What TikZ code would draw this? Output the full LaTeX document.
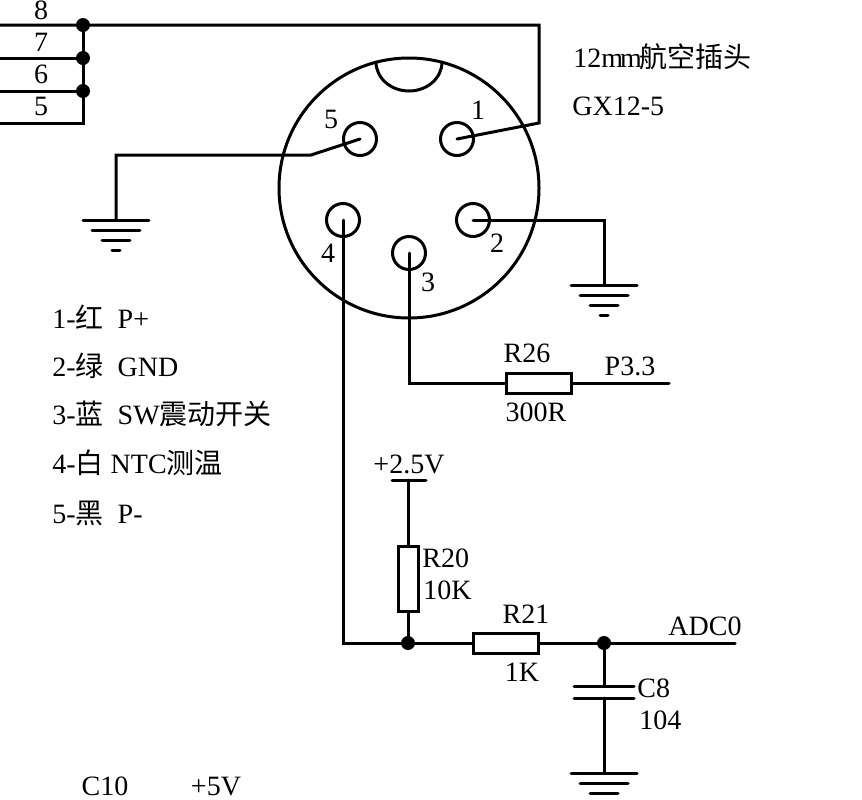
\documentclass[tikz,border=0pt]{standalone}
\usepackage{fontspec}
\setmainfont{Liberation Serif}
\newfontfamily\cjk{Noto Sans CJK SC}
\tikzset{
  wire/.style={black,line width=1.5pt,line cap=round,line join=miter},
  pin/.style={circle,draw,line width=1.5pt,minimum size=16.5pt,inner sep=0pt},
  res/.style={rectangle,draw,line width=1.5pt,inner sep=0pt},
  dot/.style={circle,fill=black,minimum size=7pt,inner sep=0pt},
  txt/.style={inner sep=0pt,font=\fontsize{14}{16}\selectfont},
  gnd/.pic={
    \draw[wire] (-33,0) -- (33,0);
    \draw[wire] (-24,10) -- (24,10);
    \draw[wire] (-14,20) -- (14,20);
    \draw[wire] (-4,30) -- (4,30);
  }
}
\begin{document}
\begin{tikzpicture}[x=0.5pt,y=-0.5pt]
  \clip (0,0) rectangle (862,799);
  % Connector body
  \draw[wire] (409,188) circle (130);
  \draw[wire] (376,62) arc (180:0:33 and 29);
  \node[pin]    (P1)        at (457,139) {};
  \node[pin]    (P2)        at (473,220) {};
  \node[pin]    (P3)        at (409,253) {};
  \node[pin]    (P4)        at (343,220) {};
  \node[pin]    (P5)        at (360,139) {};
  \node[txt]    (L1)        at (478,110) {1};
  \node[txt]    (L2)        at (497,243) {2};
  \node[txt]    (L3)        at (428,282) {3};
  \node[txt]    (L4)        at (328,253) {4};
  \node[txt]    (L5)        at (331,119) {5};
  % Wire bundle on the left
  \coordinate   (W8)        at (0,25);
  \coordinate   (W7)        at (0,58);
  \coordinate   (W6)        at (0,91);
  \coordinate   (W5)        at (0,123);
  \node[dot]    (J8)        at (83,25) {};
  \node[dot]    (J7)        at (83,58) {};
  \node[dot]    (J6)        at (83,91) {};
  \coordinate   (J5)        at (83,123);
  \coordinate   (T1)        at (539,25);
  \coordinate   (T2)        at (539,123);
  \node[txt]    (N8)        at (41,10.5) {8};
  \node[txt]    (N7)        at (41,42) {7};
  \node[txt]    (N6)        at (41,74) {6};
  \node[txt]    (N5)        at (41,106) {5};
  \draw[wire] (W8) -- (J8.center) -- (T1) -- (T2) -- (P1.center);
  \draw[wire] (W7) -- (J7.center);
  \draw[wire] (W6) -- (J6.center);
  \draw[wire] (W5) -- (J5) -- (J8.center);
  % Ground wires
  \coordinate   (K5)        at (311,155);
  \coordinate   (G5)        at (116,155);
  \coordinate   (G1)        at (116,220);
  \coordinate   (K2)        at (604,220);
  \coordinate   (G2)        at (604,285);
  \draw[wire] (P5.center) -- (K5) -- (G5) -- (G1);
  \draw[wire] (P2.center) -- (K2) -- (G2);
  \pic at (G1) {gnd};
  \pic at (G2) {gnd};
  % Pin 3 to P3.3
  \coordinate   (K3)        at (409,383);
  \node[res,minimum width=32.5pt,minimum height=10pt]  (R26) at (538.5,383) {};
  \coordinate   (P33)       at (669,383);
  \draw[wire] (P3.center) -- (K3) -- (R26.west);
  \draw[wire] (R26.east) -- (P33);
  \node[txt]    (R26a)      at (527,353) {R26};
  \node[txt]    (R26b)      at (536,412) {300R};
  \node[txt]    (P33t)      at (630,366) {P3.3};
  % Pin 4 to ADC0
  \coordinate   (K4)        at (343,643);
  \node[dot]    (J20)       at (408,643) {};
  \node[dot]    (J8c)       at (604,643) {};
  \node[res,minimum width=32.5pt,minimum height=10pt]  (R21) at (506,643) {};
  \node[res,minimum width=10pt,minimum height=32.5pt]  (R20) at (408,578.5) {};
  \coordinate   (ADC)       at (735,643);
  \coordinate   (V25)       at (408,480);
  \coordinate   (V25a)      at (392,480);
  \coordinate   (V25b)      at (426,480);
  \draw[wire] (P4.center) -- (K4) -- (J20.center) -- (R21.west);
  \draw[wire] (R21.east) -- (J8c.center) -- (ADC);
  \draw[wire] (J20.center) -- (R20.south);
  \draw[wire] (R20.north) -- (V25);
  \draw[wire] (V25a) -- (V25b);
  \node[txt]    (V25t)      at (409,464) {+2.5V};
  \node[txt,anchor=west] (R20a) at (422,558) {R20};
  \node[txt,anchor=west] (R20b) at (423,590) {10K};
  \node[txt]    (R21a)      at (526,614) {R21};
  \node[txt]    (R21b)      at (522,672) {1K};
  \node[txt]    (ADCt)      at (705,626) {ADC0};
  % C8
  \coordinate   (C8a)       at (604,686);
  \coordinate   (C8b)       at (604,698);
  \coordinate   (G3)        at (604,773);
  \draw[wire] (J8c.center) -- (C8a);
  \draw[wire] (C8b) -- (G3);
  \draw[wire] (574,686) -- (634,686);
  \draw[wire] (574,698) -- (634,698);
  \pic at (G3) {gnd};
  \node[txt,anchor=west] (C8t)  at (637,688) {C8};
  \node[txt,anchor=west] (C8v)  at (639,720) {104};
  % Texts
  \node[txt,anchor=west] (T12)  at (573,57) {12m\kern-1.5pt m\kern-1pt{\cjk 航空插头}};
  \node[txt,anchor=west] (TGX)  at (572,106) {GX12-5};
  \node[txt,anchor=west] (LS1)  at (52,317) {1-{\cjk 红}\ \ P+};
  \node[txt,anchor=west] (LS2)  at (52,366) {2-{\cjk 绿}\ \ GND};
  \node[txt,anchor=west] (LS3)  at (52,414) {3-{\cjk 蓝}\ \ SW{\cjk 震动开关}};
  \node[txt,anchor=west] (LS4)  at (52,463) {4-{\cjk 白} NTC{\cjk 测温}};
  \node[txt,anchor=west] (LS5)  at (52,513) {5-{\cjk 黑}\ \ P-};
  \node[txt]    (C10)       at (105,786.5) {C10};
  \node[txt]    (V5)        at (216,786.5) {+5V};
\end{tikzpicture}
\end{document}
